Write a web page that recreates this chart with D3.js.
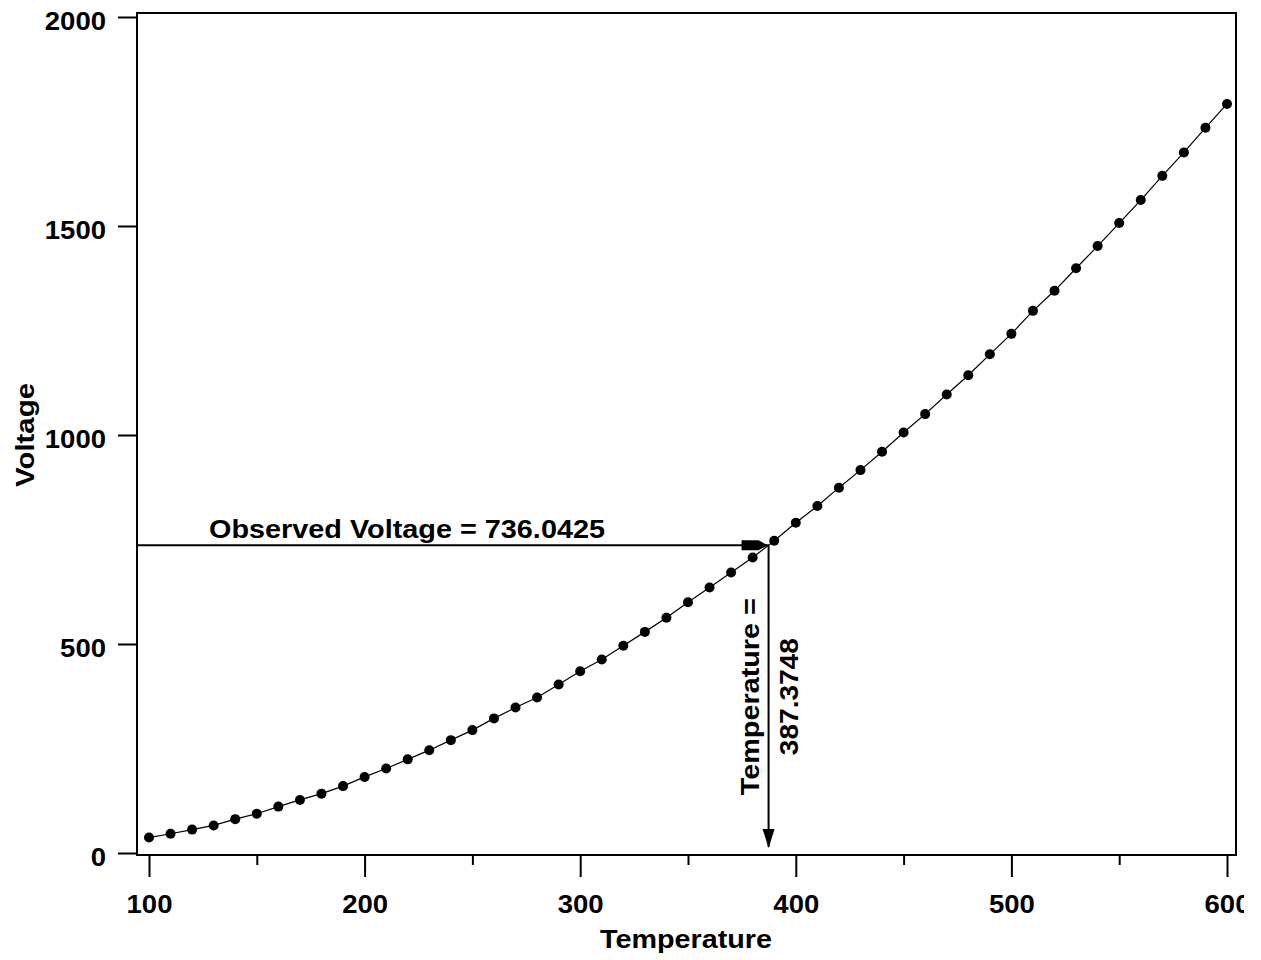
<!DOCTYPE html>
<html>
<head>
<meta charset="utf-8">
<script src="https://cdn.jsdelivr.net/npm/d3@7"></script>
<style>
  html, body { margin: 0; padding: 0; background: #fff; }
  svg { display: block; }
  text { font-family: "Liberation Sans", Arial, sans-serif; font-weight: bold; fill: #000; }
</style>
</head>
<body>
<svg id="chart" width="1244" height="960"></svg>
<script>
// ---- data ----
const temperature = [100,110,120,130,140,150,160,170,180,190,200,210,220,230,240,250,260,270,280,290,300,
  310,320,330,340,350,360,370,380,390,400,410,420,430,440,450,460,470,480,490,500,
  510,520,530,540,550,560,570,580,590,600];
const voltage = [37,46,56,66,81,94,111,127,142,160,182,202,224,246,270,294,322,348,372,403,435,
  463,496,529,563,600,635,671,707,747,790,830,874,916,960,1006,1050,1097,1143,1193,1242,
  1297,1345,1399,1452,1507,1562,1620,1676,1735,1792];
const xTicks = [100,200,300,400,500,600];
const xMinorTicks = [150,250,350,450,550];
const yTicks = [0,500,1000,1500,2000];
const observedVoltage = 736.0425;
const estimatedTemperature = 387.3748;
const xTitle = "Temperature";
const yTitle = "Voltage";
const voltLabel = "Observed Voltage = 736.0425";
const tempLabel1 = "Temperature =";
const tempLabel2 = "387.3748";

// ---- layout ----
const svg = d3.select("#chart");
const frame = {left: 137, right: 1236, top: 13, bottom: 855};
const x = d3.scaleLinear().domain([100, 600]).range([149, 1227]);
const y = d3.scaleLinear().domain([0, 2000]).range([853, 17]);
const digitW = 15.3;

// frame
svg.append("rect")
  .attr("x", frame.left).attr("y", frame.top)
  .attr("width", frame.right - frame.left).attr("height", frame.bottom - frame.top)
  .attr("fill", "none").attr("stroke", "#000").attr("stroke-width", 2);

// y axis
const gy = svg.append("g").attr("transform", `translate(${frame.left},0)`)
  .call(d3.axisLeft(y).tickValues(yTicks).tickSize(19).tickPadding(12).tickFormat(d3.format("d")));
gy.select(".domain").remove();
gy.selectAll(".tick line").attr("stroke", "#000").attr("stroke-width", 2);
gy.selectAll(".tick text")
  .attr("dy", "0.48em")
  .style("font-size", "25px").style("font-family", "'Liberation Sans', Arial, sans-serif").style("font-weight", "bold")
  .each(function(d) { const s = String(d); d3.select(this).attr("textLength", s.length * digitW).attr("lengthAdjust", "spacingAndGlyphs"); });

// x axis
const gx = svg.append("g").attr("transform", `translate(0,${frame.bottom})`)
  .call(d3.axisBottom(x).tickValues(xTicks).tickSize(22).tickPadding(18).tickFormat(d3.format("d")));
gx.select(".domain").remove();
gx.selectAll(".tick line").attr("stroke", "#000").attr("stroke-width", 2);
gx.selectAll(".tick text")
  .style("font-size", "25px").style("font-family", "'Liberation Sans', Arial, sans-serif").style("font-weight", "bold")
  .each(function(d) { const s = String(d); d3.select(this).attr("textLength", s.length * digitW).attr("lengthAdjust", "spacingAndGlyphs"); });

const gxm = svg.append("g").attr("transform", `translate(0,${frame.bottom})`)
  .call(d3.axisBottom(x).tickValues(xMinorTicks).tickSize(10).tickFormat(""));
gxm.select(".domain").remove();
gxm.selectAll(".tick line").attr("stroke", "#000").attr("stroke-width", 2);

// axis titles
svg.append("text").attr("x", 686).attr("y", 948).attr("text-anchor", "middle")
  .style("font-size", "25px").attr("textLength", 172).attr("lengthAdjust", "spacingAndGlyphs").text(xTitle);
svg.append("text").attr("transform", "translate(34,435) rotate(-90)").attr("text-anchor", "middle")
  .style("font-size", "25px").attr("textLength", 104).attr("lengthAdjust", "spacingAndGlyphs").text(yTitle);

// curve and points
const pts = temperature.map((t, i) => [t, voltage[i]]);
svg.append("path").datum(pts)
  .attr("d", d3.line().x(d => x(d[0])).y(d => y(d[1])))
  .attr("fill", "none").attr("stroke", "#000").attr("stroke-width", 1.2);
svg.append("g").selectAll("circle").data(pts).join("circle")
  .attr("cx", d => x(d[0])).attr("cy", d => y(d[1])).attr("r", 5).attr("fill", "#000");

// annotation lines
const ax = x(estimatedTemperature), ay = y(observedVoltage);
svg.append("line").attr("x1", frame.left).attr("y1", ay).attr("x2", ax).attr("y2", ay)
  .attr("stroke", "#000").attr("stroke-width", 2);
svg.append("line").attr("x1", ax).attr("y1", ay).attr("x2", ax).attr("y2", y(0) - 6)
  .attr("stroke", "#000").attr("stroke-width", 2);
// arrowheads
svg.append("path")
  .attr("d", `M${ax - 27},${ay - 5} L${ax - 10},${ay - 5} L${ax - 1},${ay} L${ax - 10},${ay + 5} L${ax - 27},${ay + 5} Z`)
  .attr("fill", "#000");
const by = y(0) - 5;
svg.append("path")
  .attr("d", `M${ax - 6},${by - 19} L${ax + 6},${by - 19} L${ax},${by} Z`)
  .attr("fill", "#000");

// annotation labels
svg.append("text").attr("x", 209).attr("y", 538)
  .style("font-size", "25px").attr("textLength", 396).attr("lengthAdjust", "spacingAndGlyphs").text(voltLabel);
const midY = (ay + by) / 2;
svg.append("text").attr("transform", `translate(${ax - 10},${midY}) rotate(-90)`).attr("text-anchor", "middle")
  .style("font-size", "25px").attr("textLength", 197).attr("lengthAdjust", "spacingAndGlyphs").text(tempLabel1);
svg.append("text").attr("transform", `translate(${ax + 29},${midY}) rotate(-90)`).attr("text-anchor", "middle")
  .style("font-size", "25px").attr("textLength", 117).attr("lengthAdjust", "spacingAndGlyphs").text(tempLabel2);
</script>
</body>
</html>
